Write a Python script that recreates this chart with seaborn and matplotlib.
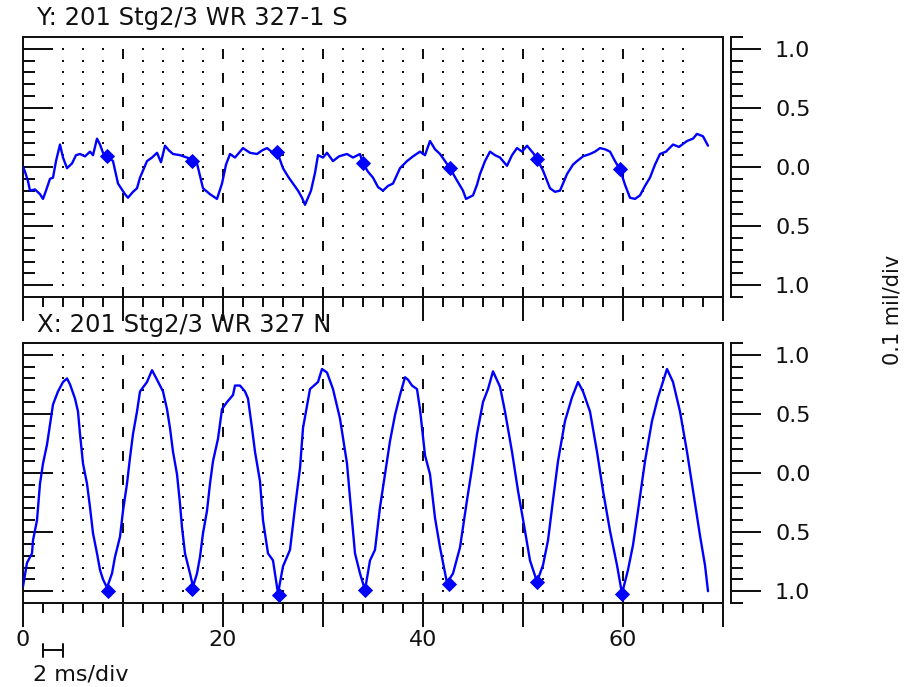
import numpy as np
import pandas as pd
import matplotlib
matplotlib.use("Agg")
import matplotlib.pyplot as plt
import matplotlib.transforms as mtransforms
from matplotlib.ticker import MultipleLocator, FuncFormatter, NullLocator
import seaborn as sns

# ---------------- data ----------------
title_y = "Y: 201 Stg2/3 WR 327-1 S"
title_x = "X: 201 Stg2/3 WR 327 N"
x_label_text = "2 ms/div"
y_label_text = "0.1 mil/div"
x_tick_labels = [0, 20, 40, 60]
y_tick_values = [-1.0, -0.5, 0.0, 0.5, 1.0]

# Y probe (top panel), time in ms, amplitude in mil
y_time = [0.0, 0.2, 0.5, 0.7, 1.2, 1.7, 2.0, 2.3, 2.7, 3.0,
          3.3, 3.7, 4.0, 4.4, 4.9, 5.3, 5.7, 6.2, 6.7, 7.0,
          7.4, 7.7, 8.0, 8.4, 9.0, 9.5, 10.2, 10.5, 11.0, 11.4,
          11.7, 12.4, 12.9, 13.4, 13.8, 14.2, 14.6, 15.0, 15.7, 16.4,
          17.0, 17.4, 18.0, 18.7, 19.4, 19.9, 20.3, 20.7, 21.2, 21.7,
          22.0, 22.7, 23.4, 23.9, 24.4, 25.0, 25.4, 26.0, 26.5, 27.0,
          27.5, 27.9, 28.2, 28.8, 29.2, 29.5, 30.0, 30.4, 31.0, 31.6,
          32.4, 33.0, 33.7, 34.0, 34.5, 35.0, 35.5, 36.0, 36.5, 37.0,
          37.7, 38.4, 39.0, 39.7, 40.2, 40.7, 41.2, 41.7, 42.2, 42.7,
          43.3, 44.0, 44.3, 45.0, 45.4, 45.7, 46.2, 46.7, 47.2, 47.7,
          48.4, 48.9, 49.4, 49.9, 50.4, 51.0, 51.4, 52.0, 52.7, 53.2,
          53.7, 54.4, 55.0, 55.4, 56.0, 56.7, 57.2, 57.7, 58.2, 58.7,
          59.2, 59.7, 60.2, 60.7, 61.2, 61.7, 62.2, 62.7, 63.2, 63.7,
          64.3, 65.0, 65.6, 66.4, 67.0, 67.4, 68.0, 68.5]
y_amp = [0.00, -0.04, -0.12, -0.20, -0.19, -0.23, -0.27, -0.20, -0.10, -0.09,
         0.05, 0.19, 0.08, -0.01, 0.03, 0.10, 0.11, 0.09, 0.13, 0.10,
         0.24, 0.19, 0.12, 0.09, 0.05, -0.14, -0.23, -0.26, -0.21, -0.18,
         -0.09, 0.05, 0.08, 0.12, 0.04, 0.18, 0.14, 0.11, 0.10, 0.08,
         0.06, 0.03, -0.18, -0.23, -0.27, -0.14, 0.02, 0.11, 0.08, 0.13,
         0.16, 0.12, 0.11, 0.14, 0.16, 0.12, 0.13, -0.01, -0.08, -0.14,
         -0.20, -0.26, -0.32, -0.20, -0.05, 0.10, 0.08, 0.12, 0.05, 0.09,
         0.11, 0.08, 0.11, 0.03, -0.04, -0.09, -0.17, -0.20, -0.16, -0.14,
         -0.01, 0.05, 0.09, 0.13, 0.10, 0.22, 0.15, 0.11, 0.05, -0.01,
         -0.10, -0.20, -0.27, -0.24, -0.15, -0.06, 0.05, 0.13, 0.10, 0.08,
         0.01, 0.10, 0.16, 0.13, 0.18, 0.12, 0.07, -0.03, -0.18, -0.21,
         -0.20, -0.06, 0.02, 0.05, 0.09, 0.11, 0.13, 0.16, 0.15, 0.13,
         0.05, -0.02, -0.15, -0.26, -0.27, -0.24, -0.16, -0.09, 0.02, 0.11,
         0.13, 0.19, 0.17, 0.22, 0.24, 0.28, 0.26, 0.18]
y_mark_time = [8.4, 16.9, 25.4, 34.0, 42.7, 51.4, 59.7]
y_mark_amp = [0.09, 0.05, 0.13, 0.03, -0.01, 0.07, -0.02]

# X probe (bottom panel)
x_time = [0.0, 0.2, 0.4, 0.9, 1.0, 1.4, 1.7, 2.0, 2.4, 2.7,
          3.0, 3.5, 4.0, 4.4, 4.7, 5.2, 5.5, 5.7, 6.0, 6.4,
          6.7, 7.0, 7.4, 7.7, 8.0, 8.4, 8.9, 9.2, 9.7, 10.0,
          10.4, 10.7, 11.0, 11.4, 11.7, 12.4, 12.9, 13.4, 14.0, 14.4,
          14.7, 15.0, 15.4, 15.7, 15.9, 16.2, 16.7, 17.0, 17.4, 17.7,
          18.0, 18.4, 18.7, 19.0, 19.5, 19.9, 20.4, 21.0, 21.2, 21.7,
          22.2, 22.5, 22.9, 23.2, 23.7, 24.0, 24.5, 25.0, 25.5, 26.0,
          26.7, 27.2, 27.7, 28.0, 28.7, 29.5, 29.9, 30.4, 31.0, 31.7,
          32.4, 32.7, 33.2, 33.7, 34.2, 34.7, 35.2, 35.7, 36.2, 36.7,
          37.2, 37.7, 38.2, 38.5, 38.9, 39.4, 39.7, 40.2, 40.7, 41.2,
          41.7, 42.4, 43.0, 43.7, 44.4, 44.9, 45.4, 46.0, 46.5, 47.0,
          47.7, 48.2, 48.9, 49.5, 50.2, 50.7, 51.4, 52.0, 52.5, 53.0,
          53.5, 54.2, 54.9, 55.5, 56.0, 56.7, 57.4, 58.0, 58.7, 59.4,
          59.9, 60.5, 61.0, 61.5, 62.2, 62.9, 63.5, 64.4, 65.0, 65.7,
          66.4, 67.0, 67.7, 68.2, 68.5]
x_amp = [-0.96, -0.86, -0.76, -0.68, -0.57, -0.40, -0.09, 0.08, 0.24, 0.41,
         0.58, 0.69, 0.77, 0.80, 0.75, 0.63, 0.52, 0.33, 0.08, -0.09,
         -0.29, -0.51, -0.68, -0.82, -0.90, -0.97, -0.85, -0.71, -0.54, -0.32,
         -0.09, 0.13, 0.33, 0.52, 0.69, 0.77, 0.87, 0.79, 0.69, 0.54,
         0.38, 0.18, -0.01, -0.26, -0.46, -0.68, -0.85, -0.96, -0.85, -0.71,
         -0.51, -0.32, -0.09, 0.10, 0.29, 0.54, 0.60, 0.66, 0.74, 0.74,
         0.69, 0.63, 0.38, 0.18, -0.07, -0.40, -0.68, -0.74, -1.02, -0.79,
         -0.65, -0.29, 0.04, 0.38, 0.71, 0.77, 0.88, 0.85, 0.71, 0.46,
         0.08, -0.21, -0.68, -0.85, -0.99, -0.74, -0.65, -0.29, -0.01, 0.27,
         0.49, 0.66, 0.81, 0.79, 0.74, 0.71, 0.54, 0.15, -0.01, -0.38,
         -0.63, -0.93, -0.85, -0.63, -0.23, 0.04, 0.33, 0.60, 0.71, 0.86,
         0.73, 0.52, 0.18, -0.15, -0.49, -0.74, -0.92, -0.78, -0.57, -0.23,
         0.10, 0.44, 0.64, 0.77, 0.69, 0.52, 0.18, -0.15, -0.49, -0.78,
         -1.02, -0.82, -0.61, -0.32, 0.10, 0.44, 0.64, 0.88, 0.77, 0.52,
         0.18, -0.15, -0.53, -0.78, -1.00]
x_mark_time = [8.5, 16.9, 25.6, 34.2, 42.6, 51.4, 59.9]
x_mark_amp = [-1.00, -0.98, -1.03, -0.99, -0.94, -0.92, -1.02]

# ---------------- styling ----------------
sns.set_theme(style="white")
plt.rcParams["font.family"] = ["DejaVu Sans"]
plt.rcParams["axes.grid"] = False

W, H = 910, 687
PX = 0.72  # points per pixel at dpi 100
BLUE = "#0000ff"
INK = "#111111"

fig = plt.figure(figsize=(W / 100, H / 100), dpi=100)
fig.patch.set_facecolor("white")

ax_top = fig.add_axes([23 / W, 1 - 297 / H, 700 / W, 260 / H])
ax_bot = fig.add_axes([23 / W, 1 - 603 / H, 700 / W, 260 / H])

grid_x = [v for v in range(4, 68, 2) if v % 10 != 0]
grid_y = [round(v * 0.1, 1) for v in range(-10, 11)]
gx, gy = np.meshgrid(grid_x, grid_y)


def style_panel(ax, labels):
    ax.set_xlim(0, 70)
    ax.set_ylim(-1.1, 1.1)
    ax.set_facecolor("white")
    for s in ax.spines.values():
        s.set_visible(True)
        s.set_linewidth(2 * PX)
        s.set_color(INK)
    ax.xaxis.set_major_locator(MultipleLocator(10))
    ax.xaxis.set_minor_locator(MultipleLocator(2))
    ax.yaxis.set_major_locator(MultipleLocator(0.5))
    ax.yaxis.set_minor_locator(MultipleLocator(0.1))
    ax.tick_params(axis="x", which="major", direction="out", length=24 * PX,
                   width=2 * PX, bottom=True, top=False, color=INK,
                   labelbottom=labels, labelsize=16, labelcolor=INK, pad=3 * PX)
    ax.tick_params(axis="x", which="minor", direction="out", length=10 * PX,
                   width=2 * PX, bottom=True, top=False, color=INK)
    ax.tick_params(axis="y", which="major", direction="in", length=30 * PX,
                   width=2 * PX, left=True, right=True, labelleft=False,
                   labelright=False, color=INK)
    ax.tick_params(axis="y", which="minor", direction="in", length=12 * PX,
                   width=2 * PX, left=True, right=True, color=INK)
    ax.xaxis.set_major_formatter(
        FuncFormatter(lambda v, p: f"{int(round(v))}" if int(round(v)) in x_tick_labels else ""))
    ax.set_xlabel("")
    ax.set_ylabel("")

    # inner part of the major x ticks
    sec = ax.secondary_xaxis("bottom")
    sec.set_xticks([0, 10, 20, 30, 40, 50, 60, 70])
    sec.xaxis.set_minor_locator(NullLocator())
    sec.tick_params(axis="x", which="major", direction="in", length=10 * PX,
                    width=2 * PX, labelbottom=False, color=INK)
    sec.spines["bottom"].set_visible(False)

    # dotted graticule + dashed 10 ms lines
    ax.scatter(gx.ravel(), gy.ravel(), s=2.2, marker="s", color=INK,
               linewidths=0, zorder=1)
    ax.vlines([10, 20, 30, 40, 50, 60], 1.0, -1.0, colors=INK,
              linewidth=2 * PX, linestyles=(0, (5.0, 7.0)), zorder=1)

    # outer scale on the right
    tw = ax.twinx()
    tw.set_ylim(-1.1, 1.1)
    for k in ["top", "bottom", "left"]:
        tw.spines[k].set_visible(False)
    tw.spines["right"].set_visible(True)
    tw.spines["right"].set_position(("outward", 8 * PX))
    tw.spines["right"].set_linewidth(2 * PX)
    tw.spines["right"].set_color(INK)
    tw.yaxis.set_major_locator(MultipleLocator(0.5))
    tw.yaxis.set_minor_locator(MultipleLocator(0.1))
    tw.yaxis.set_major_formatter(FuncFormatter(lambda v, p: f"{abs(v):.1f}"))
    tw.tick_params(axis="y", which="major", direction="out", length=30 * PX,
                   width=2 * PX, right=True, left=False, labelright=True,
                   labelsize=16, labelcolor=INK, pad=14 * PX, color=INK)
    tw.tick_params(axis="y", which="minor", direction="out", length=12 * PX,
                   width=2 * PX, right=True, left=False, color=INK)
    tw.grid(False)
    ax.grid(False)


style_panel(ax_top, labels=False)
style_panel(ax_bot, labels=True)

df_y = pd.DataFrame({"t": y_time, "amp": y_amp})
df_x = pd.DataFrame({"t": x_time, "amp": x_amp})
mk_y = pd.DataFrame({"t": y_mark_time, "amp": y_mark_amp})
mk_x = pd.DataFrame({"t": x_mark_time, "amp": x_mark_amp})

sns.lineplot(data=df_y, x="t", y="amp", ax=ax_top, color=BLUE, linewidth=1.7,
             estimator=None, sort=False, zorder=3)
sns.lineplot(data=df_x, x="t", y="amp", ax=ax_bot, color=BLUE, linewidth=1.7,
             estimator=None, sort=False, zorder=3)
sns.scatterplot(data=mk_y, x="t", y="amp", ax=ax_top, color=BLUE, marker="D",
                s=60, linewidth=0, zorder=4)
sns.scatterplot(data=mk_x, x="t", y="amp", ax=ax_bot, color=BLUE, marker="D",
                s=60, linewidth=0, zorder=4)
for ax in (ax_top, ax_bot):
    ax.set_xlabel("")
    ax.set_ylabel("")
    ax.set_xlim(0, 70)
    ax.set_ylim(-1.1, 1.1)

# titles and unit labels
fig.text(37 / W, 1 - 18 / H, title_y, fontsize=17.5, color=INK, ha="left", va="center")
fig.text(37 / W, 1 - 325 / H, title_x, fontsize=17.5, color=INK, ha="left", va="center")
fig.text(33 / W, 1 - 674 / H, x_label_text, fontsize=16, color=INK, ha="left", va="center")
fig.text(892 / W, 1 - 310 / H, y_label_text, fontsize=15, color=INK, ha="center",
         va="center", rotation=90)

# 2 ms scale bar under the origin
tr = mtransforms.blended_transform_factory(ax_bot.transData, fig.transFigure)
yb = 1 - 650 / H
ax_bot.plot([2, 4], [yb, yb], color=INK, lw=2 * PX, transform=tr, clip_on=False)
for xb in (2, 4):
    ax_bot.plot([xb, xb], [1 - 644 / H, 1 - 657 / H], color=INK, lw=2 * PX,
                transform=tr, clip_on=False)

fig.savefig("out.png", dpi=100, facecolor="white")
